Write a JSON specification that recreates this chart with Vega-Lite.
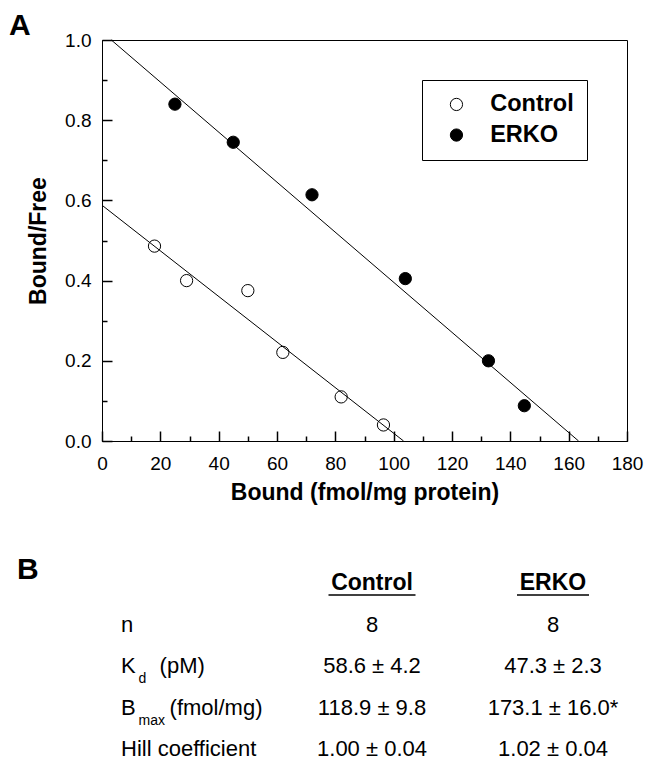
{
  "$schema": "https://vega.github.io/schema/vega-lite/v6.json",
  "background": "white",
  "padding": {"left": 8, "top": 10, "right": 0, "bottom": 0},
  "autosize": {"type": "pad"},
  "config": {
    "font": "Liberation Sans",
    "view": {"stroke": "black", "strokeWidth": 1},
    "axis": {"domainColor": "black", "tickColor": "black", "labelColor": "black", "titleColor": "black", "grid": false, "tickOpacity": 1, "zindex": 1, "labelFont": "Liberation Sans", "titleFont": "Liberation Sans", "domainWidth": 1, "tickWidth": 1.5},
    "title": {"font": "Liberation Sans", "color": "black"},
    "text": {"font": "Liberation Sans", "color": "black"}
  },
  "datasets": {
    "points": [
      {"group": "ERKO", "bound": 25, "bf": 0.84},
      {"group": "ERKO", "bound": 45, "bf": 0.745},
      {"group": "ERKO", "bound": 72, "bf": 0.614},
      {"group": "ERKO", "bound": 104, "bf": 0.405},
      {"group": "ERKO", "bound": 132.5, "bf": 0.2},
      {"group": "ERKO", "bound": 144.8, "bf": 0.088},
      {"group": "Control", "bound": 18, "bf": 0.486},
      {"group": "Control", "bound": 29, "bf": 0.4},
      {"group": "Control", "bound": 50, "bf": 0.375},
      {"group": "Control", "bound": 62, "bf": 0.221},
      {"group": "Control", "bound": 82, "bf": 0.11},
      {"group": "Control", "bound": 96.5, "bf": 0.04}
    ],
    "fits": [
      {"group": "Control", "bound": 0, "bf": 0.588},
      {"group": "Control", "bound": 103.4, "bf": 0},
      {"group": "ERKO", "bound": 3.2, "bf": 1.0},
      {"group": "ERKO", "bound": 163.4, "bf": 0}
    ],
    "params": [
      {"row": "n", "label": "n", "sub": "", "suffix": ""},
      {"row": "Kd", "label": "K", "sub": "d", "suffix": "(pM)"},
      {"row": "Bmax", "label": "B", "sub": "max", "suffix": "(fmol/mg)"},
      {"row": "Hill", "label": "Hill coefficient", "sub": "", "suffix": ""}
    ],
    "cells": [
      {"row": "n", "group": "Control", "text": "8"},
      {"row": "n", "group": "ERKO", "text": "8"},
      {"row": "Kd", "group": "Control", "text": "58.6 ± 4.2"},
      {"row": "Kd", "group": "ERKO", "text": "47.3 ± 2.3"},
      {"row": "Bmax", "group": "Control", "text": "118.9 ± 9.8"},
      {"row": "Bmax", "group": "ERKO", "text": "173.1 ± 16.0*"},
      {"row": "Hill", "group": "Control", "text": "1.00 ± 0.04"},
      {"row": "Hill", "group": "ERKO", "text": "1.02 ± 0.04"}
    ],
    "headers": [
      {"group": "Control"},
      {"group": "ERKO"}
    ]
  },
  "spacing": 149,
  "bounds": "flush",
  "resolve": {"legend": {"fill": "independent"}, "scale": {"x": "independent", "y": "independent", "fill": "independent"}},
  "vconcat": [
    {
      "width": 525,
      "height": 401,
      "title": {"text": "A", "anchor": "start", "frame": "group", "dx": -93, "offset": -34, "baseline": "alphabetic", "fontSize": 30, "fontWeight": "bold"},
      "resolve": {"axis": {"x": "independent", "y": "independent"}},
      "layer": [
        {
          "data": {"name": "fits"},
          "mark": {"type": "line", "color": "black", "strokeWidth": 1},
          "encoding": {
            "x": {"field": "bound", "type": "quantitative", "scale": {"domain": [0, 180], "nice": false},
              "axis": {"orient": "top", "offset": -401, "values": [10, 30, 50, 70, 90, 110, 130, 150, 170],
                "ticks": true, "tickSize": 5, "tickWidth": 1.5, "tickColor": "black",
                "labels": false, "domain": false, "title": null}},
            "y": {"field": "bf", "type": "quantitative", "scale": {"domain": [0, 1], "nice": false},
              "axis": {"orient": "right", "offset": -525, "values": [0.1, 0.3, 0.5, 0.7, 0.9],
                "ticks": true, "tickSize": 5, "tickWidth": 1.5, "tickColor": "black",
                "labels": false, "domain": false, "title": null}},
            "detail": {"field": "group", "type": "nominal"}
          }
        },
        {
          "data": {"name": "points"},
          "mark": {"type": "point", "filled": true, "stroke": "black", "strokeWidth": 1, "size": 150, "opacity": 1},
          "encoding": {
            "x": {"field": "bound", "type": "quantitative",
              "axis": {"orient": "bottom", "values": [0, 20, 40, 60, 80, 100, 120, 140, 160, 180],
                "ticks": true, "tickSize": -10, "tickWidth": 1.5, "tickColor": "black",
                "labelPadding": 23, "labelFontSize": 19, "labelFlush": false, "labelOverlap": false,
                "title": "Bound (fmol/mg protein)", "titleFontSize": 23, "titleFontWeight": "bold", "titlePadding": 8}},
            "y": {"field": "bf", "type": "quantitative",
              "axis": {"orient": "left", "values": [0, 0.2, 0.4, 0.6, 0.8, 1.0], "format": ".1f",
                "ticks": true, "tickSize": -10, "tickWidth": 1.5, "tickColor": "black",
                "labelPadding": 21, "labelFontSize": 19, "labelFlush": false, "labelOverlap": false,
                "title": "Bound/Free", "titleFontSize": 23, "titleFontWeight": "bold", "titlePadding": 14}},
            "fill": {"field": "group", "type": "nominal",
              "scale": {"domain": ["Control", "ERKO"], "range": ["transparent", "black"]},
              "legend": {"title": null, "orient": "top-right", "offset": 40, "strokeColor": "black", "fillColor": "white",
                "padding": 12.7, "rowPadding": 5.6, "labelFontSize": 23.5, "labelFontWeight": "bold", "labelFont": "Liberation Sans",
                "labelColor": "black", "symbolType": "circle", "symbolSize": 150, "symbolStrokeColor": "black",
                "symbolStrokeWidth": 1, "symbolOffset": 10, "labelOffset": 22, "cornerRadius": 0}}
          }
        }
      ]
    },
    {
      "width": 540,
      "height": 166,
      "view": {"stroke": null},
      "title": {"text": "B", "anchor": "start", "frame": "group", "dx": -85, "offset": -37, "baseline": "alphabetic", "fontSize": 30, "fontWeight": "bold"},
      "layer": [
        {
          "data": {"name": "params"},
          "mark": {"type": "text", "align": "left", "baseline": "alphabetic", "fontSize": 22, "dx": -70},
          "encoding": {
            "x": {"datum": "Parameter", "type": "nominal", "scale": {"type": "point", "domain": ["Parameter", "Control", "ERKO"], "padding": 0.4917}, "axis": null},
            "y": {"field": "row", "type": "nominal", "scale": {"type": "point", "domain": ["header", "n", "Kd", "Bmax", "Hill"], "padding": 0}, "axis": null},
            "text": {"field": "label"}
          }
        },
        {
          "data": {"name": "params"},
          "transform": [{"filter": "datum.sub !== ''"}],
          "mark": {"type": "text", "align": "left", "baseline": "alphabetic", "fontSize": 14, "dx": -52.5, "dy": 10},
          "encoding": {
            "x": {"datum": "Parameter", "type": "nominal"},
            "y": {"field": "row", "type": "nominal"},
            "text": {"field": "sub"}
          }
        },
        {
          "data": {"name": "params"},
          "transform": [{"filter": "datum.row === 'Kd'"}],
          "mark": {"type": "text", "align": "left", "baseline": "alphabetic", "fontSize": 22, "dx": -31.4},
          "encoding": {
            "x": {"datum": "Parameter", "type": "nominal"},
            "y": {"field": "row", "type": "nominal"},
            "text": {"field": "suffix"}
          }
        },
        {
          "data": {"name": "params"},
          "transform": [{"filter": "datum.row === 'Bmax'"}],
          "mark": {"type": "text", "align": "left", "baseline": "alphabetic", "fontSize": 22, "dx": -21.4},
          "encoding": {
            "x": {"datum": "Parameter", "type": "nominal"},
            "y": {"field": "row", "type": "nominal"},
            "text": {"field": "suffix"}
          }
        },
        {
          "data": {"name": "cells"},
          "mark": {"type": "text", "align": "center", "baseline": "alphabetic", "fontSize": 22},
          "encoding": {
            "x": {"field": "group", "type": "nominal"},
            "y": {"field": "row", "type": "nominal"},
            "text": {"field": "text"}
          }
        },
        {
          "data": {"name": "headers"},
          "mark": {"type": "text", "align": "center", "baseline": "alphabetic", "fontSize": 23, "fontWeight": "bold"},
          "encoding": {
            "x": {"field": "group", "type": "nominal"},
            "y": {"datum": "header", "type": "nominal"},
            "text": {"field": "group"}
          }
        },
        {
          "data": {"name": "headers"},
          "transform": [{"filter": "datum.group === 'Control'"}],
          "mark": {"type": "tick", "orient": "horizontal", "size": 87, "thickness": 1.5, "color": "black", "opacity": 1, "yOffset": 5},
          "encoding": {
            "x": {"field": "group", "type": "nominal"},
            "y": {"datum": "header", "type": "nominal"}
          }
        },
        {
          "data": {"name": "headers"},
          "transform": [{"filter": "datum.group === 'ERKO'"}],
          "mark": {"type": "tick", "orient": "horizontal", "size": 72, "thickness": 1.5, "color": "black", "opacity": 1, "yOffset": 5},
          "encoding": {
            "x": {"field": "group", "type": "nominal"},
            "y": {"datum": "header", "type": "nominal"}
          }
        }
      ]
    }
  ]
}
